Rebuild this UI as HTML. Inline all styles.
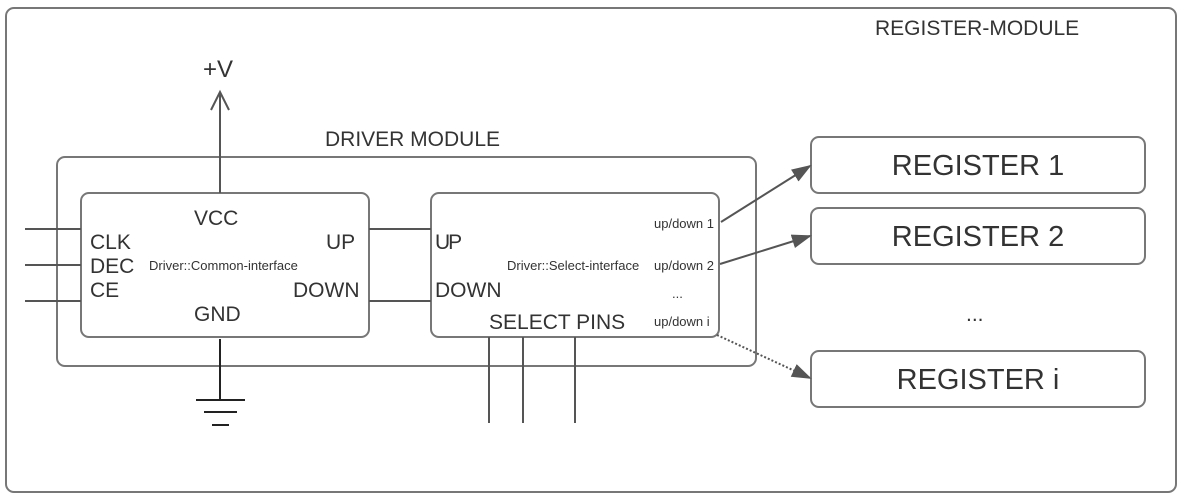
<!DOCTYPE html>
<html><head><style>body{margin:0;background:#fff}svg{display:block}</style></head>
<body>
<svg width="1187" height="502" viewBox="0 0 1187 502" xmlns="http://www.w3.org/2000/svg" font-family="Liberation Sans, sans-serif" fill="#333">
<defs>
<marker id="a" markerWidth="20" markerHeight="14" refX="18" refY="7" orient="auto" markerUnits="userSpaceOnUse" viewBox="0 0 20 14"><path d="M0,0 L20,7 L0,14 z" fill="#555"/></marker>
</defs>
<g fill="none" stroke="#777" stroke-width="2">
<rect x="6" y="8" width="1170" height="484" rx="8"/>
<rect x="57" y="157" width="699" height="209" rx="8"/>
<rect x="81" y="193" width="288" height="144" rx="8"/>
<rect x="431" y="193" width="288" height="144" rx="8"/>
<rect x="811" y="137" width="334" height="56" rx="8"/>
<rect x="811" y="208" width="334" height="56" rx="8"/>
<rect x="811" y="351" width="334" height="56" rx="8"/>
</g>
<g stroke="#555" stroke-width="2" fill="none">
<line x1="25" y1="229" x2="81" y2="229"/><line x1="25" y1="265" x2="81" y2="265"/><line x1="25" y1="301" x2="81" y2="301"/>
<line x1="369" y1="229" x2="431" y2="229"/><line x1="369" y1="301" x2="431" y2="301"/>
<line x1="489" y1="337" x2="489" y2="423"/><line x1="523" y1="337" x2="523" y2="423"/><line x1="575" y1="337" x2="575" y2="423"/>
<line x1="220" y1="193" x2="220" y2="92"/><path d="M211,110 L220,92 L229,110"/>
<line x1="220" y1="339" x2="220" y2="400" stroke="#222"/>
<line x1="196" y1="400" x2="245" y2="400" stroke="#222"/><line x1="204" y1="412" x2="237" y2="412" stroke="#222"/><line x1="212" y1="425" x2="229" y2="425" stroke="#222"/>
<line x1="721" y1="222" x2="810" y2="166" marker-end="url(#a)"/>
<line x1="720" y1="264" x2="810" y2="236" marker-end="url(#a)"/>
<line x1="717" y1="335" x2="810" y2="378" stroke-dasharray="2,2" marker-end="url(#a)"/>
</g>
<g font-size="21">
<text x="875" y="35">REGISTER-MODULE</text>
<text x="325" y="146">DRIVER MODULE</text>
<text x="194" y="225">VCC</text>
<text x="90" y="249">CLK</text>
<text x="90" y="273">DEC</text>
<text x="90" y="297">CE</text>
<text x="326" y="249">UP</text>
<text x="293" y="297">DOWN</text>
<text x="194" y="321">GND</text>
<text x="435" y="249" letter-spacing="-2">UP</text>
<text x="435" y="297">DOWN</text>
<text x="489" y="329">SELECT PINS</text>
<text x="966" y="321">...</text>
</g>
<text x="203" y="77" font-size="24">+V</text>
<g font-size="13">
<text x="149" y="270">Driver::Common-interface</text>
<text x="507" y="270">Driver::Select-interface</text>
<text x="654" y="228">up/down 1</text>
<text x="654" y="270">up/down 2</text>
<text x="672" y="298">...</text>
<text x="654" y="326">up/down i</text>
</g>
<g font-size="29" text-anchor="middle">
<text x="978" y="175">REGISTER 1</text>
<text x="978" y="246">REGISTER 2</text>
<text x="978" y="389">REGISTER i</text>
</g>
</svg>
</body></html>
